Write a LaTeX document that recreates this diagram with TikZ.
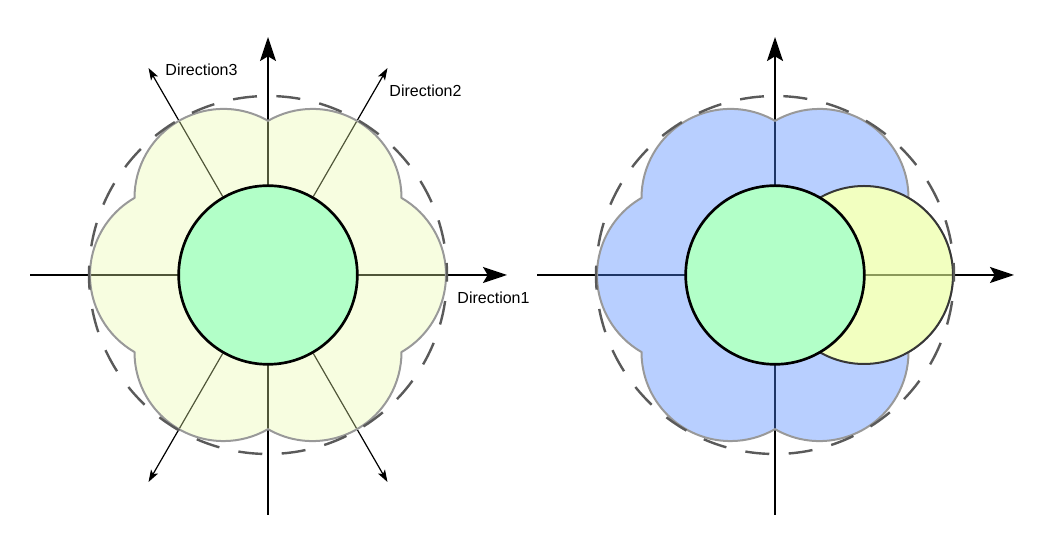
\documentclass[tikz,border=0pt]{standalone}
\usepackage{fontspec}
\setmainfont{Liberation Sans}
\usetikzlibrary{arrows.meta}
\pgfdeclarelayer{axes}
\pgfdeclarelayer{petals}
\pgfsetlayers{axes,petals,main}
\definecolor{innergreen}{RGB}{178,255,200}
\definecolor{limepet}{RGB}{232,249,166}
\definecolor{bluepet}{RGB}{77,135,255}
\definecolor{yel}{RGB}{233,255,150}
\definecolor{petborder}{RGB}{153,153,153}
\definecolor{dashgray}{RGB}{90,90,90}
\definecolor{yborder}{RGB}{55,55,55}
\tikzset{
  axisarrow/.style={line width=1.5pt, -{Stealth[length=18pt,width=12pt,inset=3.5pt]}},
  dirarrow/.style={line width=0.9pt, -{Stealth[length=9pt,width=6pt,inset=2pt]}},
  core/.style={circle, draw=black, line width=2pt, fill=innergreen, minimum size=134pt, inner sep=0pt},
  lobe/.style={circle, draw=yborder, line width=1.5pt, fill=yel, fill opacity=0.6, minimum size=133.5pt, inner sep=0pt},
  envelope/.style={draw=dashgray, line width=1.8pt, dash pattern=on 18pt off 14.6pt, dash phase=9pt},
  petal/.style={draw=petborder, line width=1.5pt},
  lbl/.style={font=\fontsize{12pt}{14pt}\selectfont, inner sep=0pt},
}
\begin{document}
\begin{tikzpicture}[x=0.75pt,y=0.75pt]
\useasboundingbox (0,0) rectangle (1063,534);

% ---------------- left panel ----------------
\node[core] (Lcore) at (268,259) {};
\coordinate (LaxW) at (30,259);
\coordinate (LaxE) at (507,259);
\coordinate (LaxS) at (268,19);
\coordinate (LaxN) at (268,497);
\coordinate (Ld60) at (387.5,466);
\coordinate (Ld120) at (148.5,466);
\coordinate (Ld240) at (148.5,52);
\coordinate (Ld300) at (387.5,52);

\begin{pgfonlayer}{axes}
  \draw[axisarrow] (LaxW) -- (LaxE);
  \draw[axisarrow] (LaxS) -- (LaxN);
  \draw[dirarrow] (Lcore.60) -- (Ld60);
  \draw[dirarrow] (Lcore.120) -- (Ld120);
  \draw[dirarrow] (Lcore.240) -- (Ld240);
  \draw[dirarrow] (Lcore.300) -- (Ld300);
\end{pgfonlayer}

\begin{pgfonlayer}{petals}
  \path[petal, fill=limepet, fill opacity=0.35]
    ([shift={(-30:154.15)}]Lcore.center)
    arc[start angle=-60, end angle=60, radius=66.75pt]
    arc[start angle=0, end angle=120, radius=66.75pt]
    arc[start angle=60, end angle=180, radius=66.75pt]
    arc[start angle=120, end angle=240, radius=66.75pt]
    arc[start angle=180, end angle=300, radius=66.75pt]
    arc[start angle=240, end angle=360, radius=66.75pt]
    -- cycle;
\end{pgfonlayer}

\draw[envelope] (Lcore.center) circle[radius=134.25pt];

\node[lbl] (L1) at (493.5,236) {Direction1};
\node[lbl] (L2) at (425.5,443) {Direction2};
\node[lbl] (L3) at (201.5,464) {Direction3};

% ---------------- right panel ----------------
\node[lobe] (Rlobe) at (864,259) {};
\node[core] (Rcore) at (775,259) {};
\coordinate (RaxW) at (537,259);
\coordinate (RaxE) at (1014,259);
\coordinate (RaxS) at (775,19);
\coordinate (RaxN) at (775,497);

\begin{pgfonlayer}{axes}
  \draw[axisarrow] (RaxW) -- (RaxE);
  \draw[axisarrow] (RaxS) -- (RaxN);
\end{pgfonlayer}

\begin{pgfonlayer}{petals}
  \begin{scope}
    \clip (0,0) -- (0,534) -- (1063,534) -- (1063,0) -- cycle
          (Rlobe.center) circle[radius=66.75pt];
    \path[petal, fill=bluepet, fill opacity=0.4]
      ([shift={(-30:154.15)}]Rcore.center)
      arc[start angle=-60, end angle=60, radius=66.75pt]
      arc[start angle=0, end angle=120, radius=66.75pt]
      arc[start angle=60, end angle=180, radius=66.75pt]
      arc[start angle=120, end angle=240, radius=66.75pt]
      arc[start angle=180, end angle=300, radius=66.75pt]
      arc[start angle=240, end angle=360, radius=66.75pt]
      -- cycle;
  \end{scope}
\end{pgfonlayer}

\draw[envelope] (Rcore.center) circle[radius=134.25pt];

\end{tikzpicture}
\end{document}
